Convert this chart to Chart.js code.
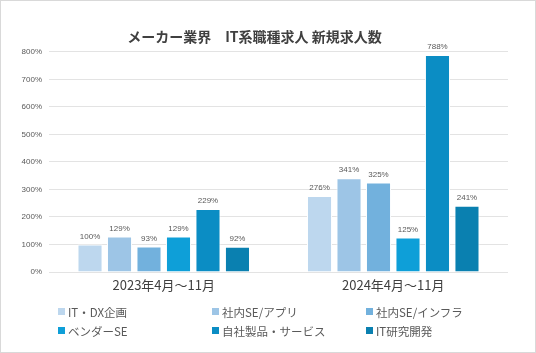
<!DOCTYPE html>
<html>
    <head>
        <meta charset="utf-8">
        <script src="https://cdn.jsdelivr.net/npm/chart.js"></script>
        <title>IT職種求人</title>
        <style>
            body { margin: 0; background: #fff; }
            .frame {
                position: relative;
                width: 536px;
                height: 353px;
                box-sizing: border-box;
                border: 1px solid #d9d9d9;
                background: #fff;
            }
            #myChart { position: absolute; left: 0; top: 0; }
            .legend {
                position: absolute;
                left: 57px;
                top: 303px;
                display: grid;
                grid-template-columns: 154px 154px 154px;
                row-gap: 4px;
                font-family: "Noto Sans CJK JP", sans-serif;
                font-size: 11.5px;
                color: #595959;
            }
            .legend div { display: flex; align-items: center; height: 15px; }
            .legend span.box { width: 7px; height: 7px; margin-right: 3px; }
        </style>
    </head>
    <body>
        <div class="frame">
            <canvas id="myChart" width="534" height="351"></canvas>
            <div class="legend" id="legend"></div>
        </div>

        <script>
            const periods = ['2023年4月～11月', '2024年4月～11月'];
            const jobTypes = ['IT・DX企画', '社内SE/アプリ', '社内SE/インフラ', 'ベンダーSE', '自社製品・サービス', 'IT研究開発'];
            const values2023 = [100, 129, 93, 129, 229, 92];
            const values2024 = [276, 341, 325, 125, 788, 241];
            const colors = ['#bdd7ee', '#9dc5e6', '#72b1dd', '#0e9fd8', '#0b8dc4', '#0a80b0'];

            // one dataset per job type, two periods each
            const datasets = jobTypes.map(function (name, i) {
                return {
                    label: name,
                    data: [values2023[i], values2024[i]],
                    backgroundColor: colors[i],
                    borderColor: '#ffffff',
                    borderWidth: 1,
                    categoryPercentage: 0.771,
                    barPercentage: 0.85
                };
            });

            // value labels above bars + period names under the axis
            const valueLabels = {
                id: 'valueLabels',
                afterDatasetsDraw(chart) {
                    const ctx = chart.ctx;
                    ctx.save();
                    ctx.font = '8px "Liberation Sans", Arial, sans-serif';
                    ctx.fillStyle = '#595959';
                    ctx.textAlign = 'center';
                    ctx.textBaseline = 'bottom';
                    chart.data.datasets.forEach(function (ds, i) {
                        chart.getDatasetMeta(i).data.forEach(function (bar, j) {
                            ctx.fillText(ds.data[j] + '%', bar.x, bar.y - 4);
                        });
                    });

                    ctx.font = '13px "Noto Sans CJK JP", sans-serif';
                    ctx.fillStyle = '#404040';
                    ctx.textBaseline = 'middle';
                    const xScale = chart.scales.x;
                    periods.forEach(function (p, j) {
                        ctx.fillText(p, xScale.getPixelForValue(j), chart.chartArea.bottom + 13);
                    });
                    ctx.restore();
                }
            };

            const ctx = document.getElementById('myChart').getContext('2d');
            const myChart = new Chart(ctx, {
                type: 'bar',
                data: { labels: periods, datasets: datasets },
                plugins: [valueLabels],
                options: {
                    responsive: false,
                    animation: false,
                    layout: { padding: { left: 0, right: 27, top: 0, bottom: 72 } },
                    plugins: {
                        legend: { display: false },
                        tooltip: { enabled: false },
                        title: {
                            display: true,
                            text: 'メーカー業界　IT系職種求人 新規求人数',
                            color: '#404040',
                            font: { family: '"Noto Sans CJK JP", sans-serif', size: 14, weight: 'bold' },
                            padding: { top: 27, bottom: 7 }
                        }
                    },
                    scales: {
                        x: {
                            grid: { display: false },
                            border: { display: false },
                            ticks: { display: false }
                        },
                        y: {
                            min: 0,
                            max: 800,
                            afterFit: function (scale) { scale.width = 48; },
                            border: { display: false },
                            grid: { color: '#e3e3e3', drawTicks: false },
                            ticks: {
                                stepSize: 100,
                                padding: 7,
                                color: '#595959',
                                font: { family: '"Liberation Sans", Arial, sans-serif', size: 8 },
                                callback: function (v) { return v + '%'; }
                            }
                        }
                    }
                }
            });

            const legend = document.getElementById('legend');
            jobTypes.forEach(function (name, i) {
                const item = document.createElement('div');
                item.innerHTML = '<span class="box" style="background:' + colors[i] + '"></span>' + name;
                legend.appendChild(item);
            });
        </script>
    </body>
</html>
